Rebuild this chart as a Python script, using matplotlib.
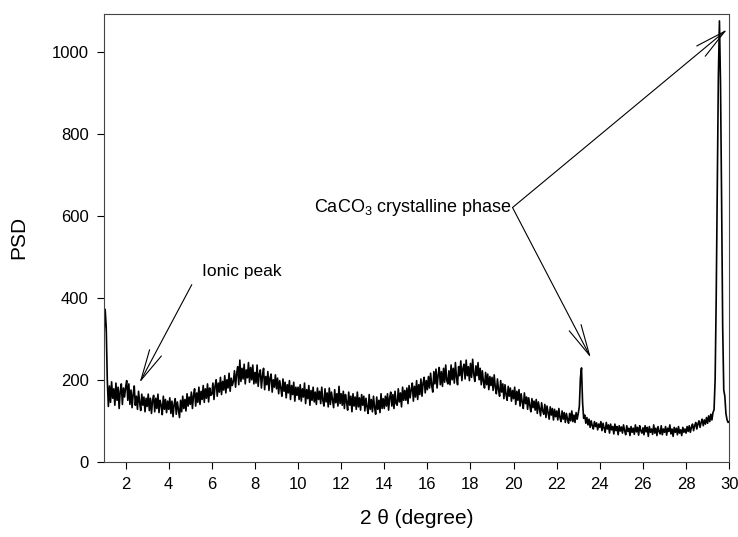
import numpy as np
import matplotlib
matplotlib.use("Agg")
import matplotlib.pyplot as plt

plt.rcParams['font.family'] = ['Liberation Sans', 'DejaVu Sans']
plt.rcParams['mathtext.fontset'] = 'custom'
plt.rcParams['mathtext.rm'] = 'Liberation Sans'
plt.rcParams['mathtext.it'] = 'Liberation Sans:italic'

# 2-theta grid, 0.05 degree step from 1 to 30
two_theta = np.round(np.arange(1.0, 30.0001, 0.05), 2)

# PSD values, one row per degree (20 points each)
psd_rows = [
    [310, 372, 328, 200, 135, 185, 145, 195, 155, 178, 138, 192, 150, 182, 130, 172, 190, 140, 180, 158],  # 1
    [182, 198, 150, 190, 140, 175, 132, 165, 185, 138, 160, 128, 172, 145, 125, 165, 138, 158, 122, 155],  # 2
    [135, 165, 125, 155, 118, 150, 162, 122, 155, 130, 165, 120, 150, 138, 115, 160, 128, 152, 120, 148],  # 3
    [128, 156, 118, 148, 110, 140, 154, 116, 146, 126, 108, 150, 122, 160, 130, 152, 124, 166, 136, 158],  # 4
    [140, 170, 130, 162, 178, 136, 168, 145, 182, 140, 172, 152, 186, 145, 178, 155, 190, 146, 180, 162],  # 5
    [165, 192, 152, 185, 200, 160, 192, 170, 206, 164, 196, 175, 210, 168, 200, 180, 216, 172, 204, 186],  # 6
    [196, 222, 182, 215, 232, 188, 248, 196, 228, 202, 238, 190, 224, 205, 242, 194, 230, 200, 236, 190],  # 7
    [218, 192, 236, 184, 214, 224, 180, 210, 228, 176, 208, 188, 220, 174, 204, 214, 170, 200, 182, 212],  # 8
    [178, 204, 166, 198, 180, 160, 202, 172, 194, 156, 188, 168, 198, 152, 186, 164, 194, 148, 182, 162],  # 9
    [182, 152, 188, 148, 178, 158, 192, 142, 176, 154, 186, 138, 174, 150, 182, 146, 170, 140, 180, 152],  # 10
    [172, 142, 182, 150, 136, 178, 146, 168, 134, 180, 140, 170, 150, 132, 176, 144, 166, 136, 184, 142],  # 11
    [166, 138, 172, 130, 164, 146, 126, 170, 138, 160, 122, 166, 136, 158, 128, 170, 134, 156, 126, 164],  # 12
    [138, 160, 124, 155, 134, 118, 164, 128, 152, 122, 160, 132, 116, 158, 128, 150, 120, 166, 130, 154],  # 13
    [130, 160, 136, 166, 126, 156, 170, 136, 164, 130, 172, 142, 138, 178, 146, 168, 134, 182, 150, 174],  # 14
    [150, 180, 142, 186, 156, 176, 192, 148, 184, 158, 198, 152, 188, 164, 202, 160, 192, 206, 168, 198],  # 15
    [176, 208, 180, 216, 186, 170, 220, 190, 226, 180, 212, 230, 188, 220, 184, 228, 194, 236, 198, 190],  # 16
    [222, 188, 236, 200, 228, 192, 242, 206, 188, 232, 210, 246, 198, 228, 238, 202, 248, 210, 232, 198],  # 17
    [240, 206, 250, 214, 196, 234, 210, 242, 200, 228, 188, 222, 196, 180, 218, 188, 214, 176, 208, 186],  # 18
    [206, 174, 212, 182, 166, 202, 176, 160, 198, 170, 190, 154, 188, 164, 150, 184, 160, 180, 148, 174],  # 19
    [154, 182, 140, 172, 150, 176, 136, 166, 146, 130, 168, 142, 158, 128, 156, 138, 122, 154, 132, 148],  # 20
    [126, 152, 118, 146, 130, 112, 144, 124, 116, 140, 108, 136, 120, 104, 134, 114, 130, 102, 128, 110],  # 21
    [124, 102, 130, 108, 98, 124, 104, 120, 96, 118, 104, 94, 118, 100, 124, 98, 114, 96, 120, 104],  # 22
    [118, 135, 205, 229, 145, 106, 114, 94, 108, 90, 104, 84, 100, 88, 80, 98, 86, 95, 78, 92],  # 23
    [84, 98, 76, 94, 82, 72, 96, 80, 90, 70, 92, 78, 86, 68, 92, 76, 86, 66, 88, 75],  # 24
    [85, 70, 90, 76, 66, 88, 74, 82, 64, 86, 72, 82, 67, 90, 73, 84, 65, 88, 76, 70],  # 25
    [83, 66, 88, 73, 84, 62, 86, 72, 80, 67, 90, 70, 82, 64, 86, 74, 68, 88, 66, 80],  # 26
    [72, 86, 65, 82, 74, 90, 68, 80, 62, 84, 72, 82, 66, 86, 70, 78, 64, 84, 72, 80],  # 27
    [70, 86, 74, 88, 72, 84, 92, 76, 88, 96, 80, 92, 100, 84, 96, 104, 88, 102, 92, 108],  # 28
    [94, 112, 98, 116, 102, 120, 127, 200, 400, 680, 940, 1075, 920, 640, 330, 175, 160, 118, 103, 96],  # 29
    [98],  # 30
]
psd = np.concatenate([np.array(r, dtype=float) for r in psd_rows])

fig = plt.figure(figsize=(7.38, 5.37), dpi=100)
ax = fig.add_axes([0.141, 0.140, 0.847, 0.834])

ax.plot(two_theta, psd, color='black', lw=1.2)

ax.set_xlim(1, 30)
ax.set_ylim(0, 1092)
ax.set_xticks(np.arange(2, 31, 2))
ax.set_yticks(np.arange(0, 1001, 200))
ax.tick_params(direction='out', length=5, width=0.8, labelsize=12, pad=6,
               top=False, right=False)
for s in ax.spines.values():
    s.set_linewidth(0.8)
    s.set_color('#444444')

ax.set_xlabel('2 θ (degree)', fontsize=15)
ax.set_ylabel('PSD', fontsize=15)
ax.xaxis.set_label_coords(0.5, -0.105)
ax.yaxis.set_label_coords(-0.122, 0.5)

arrow = dict(arrowstyle='->,head_length=1.4,head_width=0.3', lw=0.8, color='black',
             shrinkA=0, shrinkB=0, mutation_scale=16)

ax.annotate('', xy=(2.65, 193), xytext=(5.07, 432), arrowprops=arrow)
ax.text(5.53, 463, 'Ionic peak', fontsize=12.5, va='center', ha='left')

ax.text(19.9, 620, 'CaCO$_3$ crystalline phase', fontsize=13, va='center', ha='right')
ax.annotate('', xy=(23.58, 254), xytext=(19.95, 620), arrowprops=arrow)
ax.annotate('', xy=(29.9, 1054), xytext=(19.95, 620), arrowprops=arrow)

fig.savefig('out.png', dpi=100)
